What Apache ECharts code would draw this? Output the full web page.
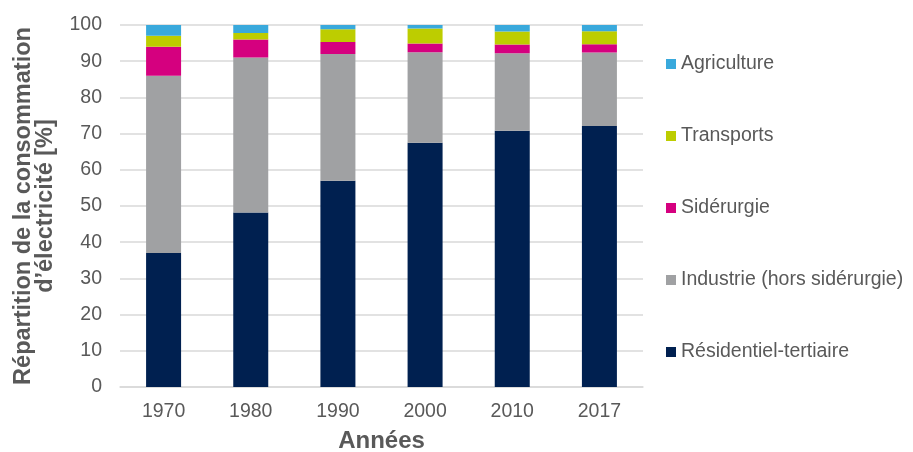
<!DOCTYPE html>
<html>
<head>
<meta charset="utf-8">
<script src="https://cdn.jsdelivr.net/npm/echarts@6/dist/echarts.min.js"></script>
<style>
  html, body { margin: 0; padding: 0; background: #fff; }
  #chart { width: 913px; height: 452px; }
</style>
</head>
<body>
<div id="chart"></div>
<script>
// share of electricity consumption by sector
const years = ["1970", "1980", "1990", "2000", "2010", "2017"];
const residentiel = [37.0, 48.2, 57.0, 67.5, 70.8, 72.1];
const industrie   = [49.0, 42.8, 35.0, 25.0, 21.4, 20.3];
const siderurgie  = [8.0, 5.0, 3.3, 2.4, 2.4, 2.3];
const transports  = [3.0, 1.8, 3.5, 4.1, 3.6, 3.6];
const agriculture = [3.0, 2.2, 1.2, 1.0, 1.8, 1.7];
const yTicks = [0, 10, 20, 30, 40, 50, 60, 70, 80, 90, 100];

const GREY = "#595959";
const FONT = "Liberation Sans, Arial, sans-serif";

const sectors = [
  { name: "Résidentiel-tertiaire", data: residentiel, color: "#002050" },
  { name: "Industrie (hors sidérurgie)", data: industrie, color: "#A0A1A3" },
  { name: "Sidérurgie", data: siderurgie, color: "#D5007F" },
  { name: "Transports", data: transports, color: "#BDCD00" },
  { name: "Agriculture", data: agriculture, color: "#39A9DC" },
];

const chart = echarts.init(document.getElementById("chart"), null, { renderer: "canvas" });

chart.setOption({
  animation: false,
  backgroundColor: "#fff",
  textStyle: { fontFamily: FONT },
  grid: { left: 120, right: 270, top: 25, bottom: 65, outerBoundsMode: "none" },
  legend: {
    orient: "vertical",
    left: 666,
    top: 54,
    padding: 0,
    itemGap: 52,
    itemWidth: 10,
    itemHeight: 10,
    icon: "rect",
    textStyle: { color: GREY, fontSize: 19.5, fontFamily: FONT, padding: [0, 0, 0, 0] },
    data: sectors.map(s => s.name).reverse(),
  },
  xAxis: {
    type: "category",
    data: years,
    name: "Années",
    nameLocation: "middle",
    nameGap: 42,
    nameTextStyle: { color: GREY, fontSize: 24, fontWeight: "bold", fontFamily: FONT },
    axisLine: { show: true, lineStyle: { color: "#D9D9D9", width: 1.5 } },
    axisTick: { show: false },
    axisLabel: { color: GREY, fontSize: 19.5, margin: 15, fontFamily: FONT },
  },
  yAxis: {
    type: "value",
    min: yTicks[0],
    max: yTicks[yTicks.length - 1],
    interval: 10,
    name: "Répartition de la consommation\nd’électricité [%]",
    nameLocation: "middle",
    nameGap: 63,
    nameTextStyle: { color: GREY, fontSize: 23.5, fontWeight: "bold", lineHeight: 22, fontFamily: FONT },
    axisLine: { show: false },
    axisTick: { show: false },
    axisLabel: { color: GREY, fontSize: 19.5, margin: 18, fontFamily: FONT },
    splitLine: { lineStyle: { color: "#D9D9D9", width: 1.5 } },
  },
  series: sectors.map(s => ({
    name: s.name,
    type: "bar",
    stack: "total",
    barWidth: 35,
    data: s.data,
    itemStyle: { color: s.color },
  })),
});
</script>
</body>
</html>
